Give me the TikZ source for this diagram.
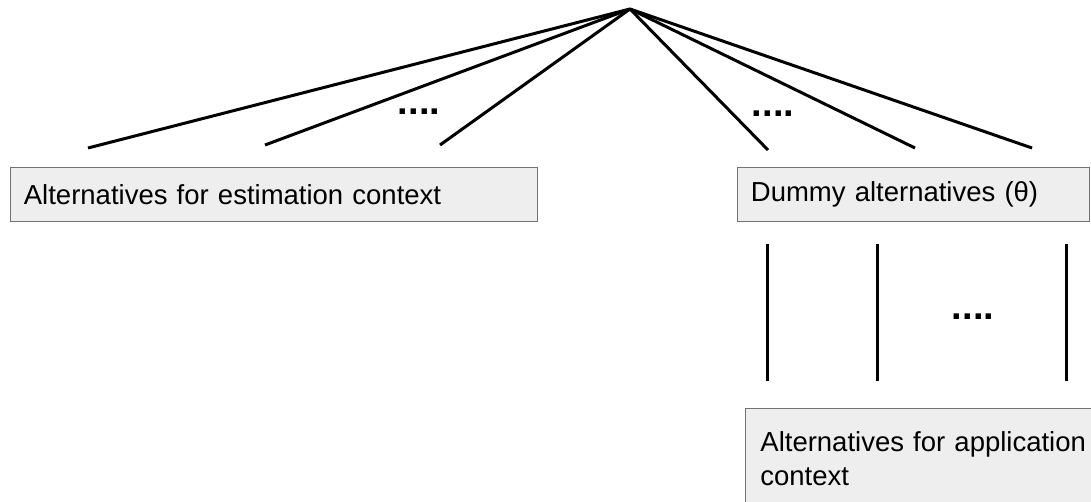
\documentclass[tikz,border=0pt]{standalone}
\usepackage{fontspec}
\setmainfont{Liberation Sans}
\usetikzlibrary{positioning}
\definecolor{boxgray}{HTML}{EEEEEE}
\tikzset{
 altbox/.style={draw=black!55, line width=0.8pt, fill=boxgray, anchor=north west,
  align=left, inner xsep=11pt, font=\fontsize{27.5}{34}\selectfont},
 branch/.style={line width=3pt},
 dotsnode/.style={inner sep=0pt, font=\fontsize{38}{38}\selectfont\bfseries}
}

\begin{document}
\begin{tikzpicture}[x=1pt, y=-1pt]
 \useasboundingbox (0, 0) rectangle (1091, 502);

 % top of the tree and ends of its branches
 \coordinate (top) at (630, 9);
 \coordinate (e1) at (88, 148);
 \coordinate (e2) at (265, 145);
 \coordinate (e3) at (440, 145);
 \coordinate (d1) at (768, 150);
 \coordinate (d2) at (915, 148);
 \coordinate (d3) at (1032, 148);

 \foreach \leaf in {e1, e2, e3, d1, d2, d3}
  \draw [branch] (top) -- (\leaf);

 % boxes
 \node [altbox, minimum width=527pt, minimum height=54pt, text width=500pt] (estim) at (10, 167)
  {Alternatives for estimation context};
 \node [altbox, minimum width=352pt, minimum height=54pt, text width=325pt] (dummy) at (737, 167)
  {Dummy alternatives (θ)};
 \node [altbox, minimum width=360pt, minimum height=100pt, text width=330pt, anchor=north west,
  inner xsep=9pt, inner ysep=10pt] (applic) at (745, 408)
  {Alternatives for application\\context};

 % links between dummy and application alternatives
 \foreach \x [count=\i] in {767, 877, 1066} {
  \coordinate (a\i) at (\x, 244);
  \coordinate (b\i) at (\x, 381);
  \draw [branch] (a\i) -- (b\i);
 }

 % elided branches
 \node [dotsnode] (dots1) at (419, 112) {....};
 \node [dotsnode] (dots2) at (773, 114) {....};
 \node [dotsnode] (dots3) at (973, 317) {....};
\end{tikzpicture}
\end{document}
